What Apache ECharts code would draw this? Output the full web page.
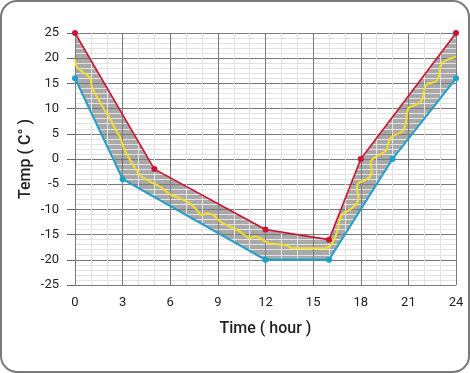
<!DOCTYPE html>
<html><head><meta charset="utf-8">
<script src="https://cdn.jsdelivr.net/npm/echarts@6/dist/echarts.min.js"></script>
<style>html,body{margin:0;padding:0;background:#fff}#c{width:470px;height:373px}</style>
</head><body><div id="c"></div>
<script>
const xTicks = [0, 3, 6, 9, 12, 15, 18, 21, 24];
const yTicks = [-25, -20, -15, -10, -5, 0, 5, 10, 15, 20, 25];
const maxTemp = [[0,25],[5,-2],[12,-14],[16,-16],[18,0],[24,25]];
const minTemp = [[0,16],[3,-4],[12,-20],[16,-20],[20,0],[24,16]];
const actualTemp = [[0,19.8],[0.06,18.6],[0.3,17.7],[0.74,16.7],[1.0,15.7],[1.05,14.3],[1.37,12.4],[1.78,10.1],[2.2,8.1],[2.63,5.4],[2.83,4.4],[3.04,2.4],[3.36,0.4],[3.78,-1.8],[4.09,-3.2],[4.72,-4.5],[5.35,-5.5],[5.98,-7.0],[6.6,-7.8],[7.24,-8.8],[7.66,-10.1],[7.98,-11.1],[8.3,-10.8],[8.7,-11.1],[9.13,-12.4],[9.76,-13.4],[10.4,-14.4],[11.0,-15.7],[11.34,-15.4],[11.65,-15.7],[12.18,-16.7],[12.8,-16.9],[13.4,-17.2],[13.65,-17.7],[14.5,-17.7],[15.5,-17.7],[16.06,-17.3],[16.4,-15.4],[16.6,-13.4],[16.7,-11.8],[16.9,-10.8],[17.3,-10.1],[17.75,-8.8],[17.85,-7.5],[17.75,-5.8],[17.85,-4.8],[18.27,-4.2],[18.58,-3.5],[18.7,-2.2],[18.6,-0.9],[18.8,0.1],[19.2,0.9],[19.6,1.7],[19.72,2.8],[19.84,4.0],[20.16,4.8],[20.6,5.4],[20.8,6.7],[20.9,8.7],[21.0,10.1],[21.4,10.7],[21.8,11.4],[21.94,12.7],[22.05,14.3],[22.26,15.0],[22.7,15.3],[22.9,16.3],[23.0,18.0],[23.1,19.0],[23.4,19.6],[23.7,20.0],[24,20.3]];

const chart = echarts.init(document.getElementById('c'));
const font = 'Roboto, "DejaVu Sans", sans-serif';
const band = maxTemp.concat(minTemp.slice().reverse());
chart.setOption({
  animation: false,
  graphic: [{type:'rect', z:100, silent:true, shape:{x:1,y:1,width:468,height:371,r:16}, style:{fill:'none', stroke:'#7a7a7a', lineWidth:2}}],
  grid: {left:75, right:14, top:33, bottom:88},
  xAxis: {
    type:'value', min:xTicks[0], max:xTicks[xTicks.length-1], interval:3, z:3,
    name:'Time ( hour )', nameLocation:'middle', nameGap:36,
    nameTextStyle:{fontFamily:font, fontSize:16, color:'#222', fontWeight:500},
    axisLine:{show:false},
    axisTick:{show:true, length:8, lineStyle:{color:'#666', width:1}},
    axisLabel:{fontFamily:font, fontSize:13, color:'#222', margin:11},
    splitLine:{show:true, lineStyle:{color:'#7a7a7a', width:1}},
    minorTick:{show:false, splitNumber:3},
    minorSplitLine:{show:true, lineStyle:{color:'#e2e2e2', width:1}}
  },
  yAxis: {
    type:'value', min:yTicks[0], max:yTicks[yTicks.length-1], interval:5, z:3,
    name:'Temp ( C° )', nameLocation:'middle', nameGap:41, nameRotate:90, nameMoveOverlap:false,
    nameTextStyle:{fontFamily:font, fontSize:16, color:'#222', fontWeight:500},
    axisLine:{show:false},
    axisTick:{show:true, length:8, lineStyle:{color:'#666', width:1}},
    axisLabel:{fontFamily:font, fontSize:13, color:'#222', margin:16},
    splitLine:{show:true, lineStyle:{color:'#7a7a7a', width:1}},
    minorTick:{show:false, splitNumber:5},
    minorSplitLine:{show:true, lineStyle:{color:'#e2e2e2', width:1}}
  },
  series: [
    {type:'custom', z:1, silent:true, data:[[0,0]],
      renderItem:function(params, api){
        const pts = band.map(p => api.coord(p));
        return {type:'polygon', shape:{points:pts}, style:{fill:'#a9a9a9'}};
      }},
    {type:'line', z:5, data:actualTemp, smooth:0.3, showSymbol:false, lineStyle:{color:'#f3de2c', width:2}},
    {type:'line', z:6, data:maxTemp, symbol:'circle', symbolSize:6, itemStyle:{color:'#cc1334'}, lineStyle:{color:'#cc1334', width:1.6}},
    {type:'line', z:6, data:minTemp, symbol:'circle', symbolSize:6, itemStyle:{color:'#1ba0cc'}, lineStyle:{color:'#1ba0cc', width:2}}
  ]
});
</script></body></html>
